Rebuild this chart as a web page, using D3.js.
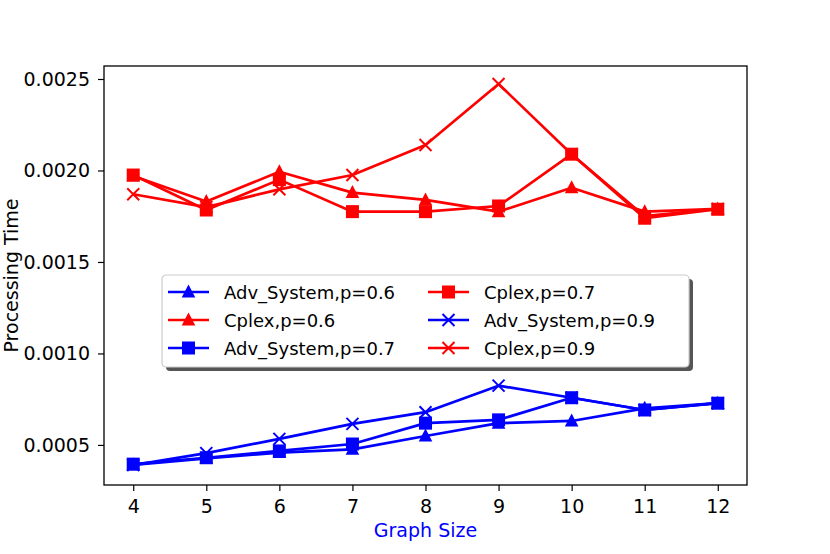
<!DOCTYPE html>
<html>
<head>
<meta charset="utf-8">
<script src="https://cdn.jsdelivr.net/npm/d3@7"></script>
<style>
  body { margin: 0; background: #fff; }
  svg { font-family: "DejaVu Sans", sans-serif; }
</style>
</head>
<body>
<svg width="830" height="554"></svg>
<script>
const sizes = [4, 5, 6, 7, 8, 9, 10, 11, 12];
const yTicks = [0.0005, 0.0010, 0.0015, 0.0020, 0.0025];

const advP06 = [0.000391, 0.000427, 0.000458, 0.000476, 0.000549, 0.000619, 0.000631, 0.000700, 0.000728];
const cplexP06 = [0.001970, 0.001830, 0.001993, 0.001879, 0.001839, 0.001775, 0.001906, 0.001775, 0.001790];
const advP07 = [0.000395, 0.000430, 0.000467, 0.000505, 0.000619, 0.000637, 0.000758, 0.000691, 0.000728];
const cplexP07 = [0.001975, 0.001784, 0.001950, 0.001775, 0.001775, 0.001806, 0.002089, 0.001739, 0.001788];
const advP09 = [0.000390, 0.000455, 0.000533, 0.000615, 0.000679, 0.000824, 0.000758, 0.000691, 0.000728];
const cplexP09 = [0.001870, 0.001800, 0.001897, 0.001975, 0.002139, 0.002473, 0.002089, 0.001750, 0.001790];

const series = [
  { name: "Adv_System,p=0.6", values: advP06, color: "#0000ff", marker: "tri" },
  { name: "Cplex,p=0.6", values: cplexP06, color: "#ff0000", marker: "tri" },
  { name: "Adv_System,p=0.7", values: advP07, color: "#0000ff", marker: "sq" },
  { name: "Cplex,p=0.7", values: cplexP07, color: "#ff0000", marker: "sq" },
  { name: "Adv_System,p=0.9", values: advP09, color: "#0000ff", marker: "x" },
  { name: "Cplex,p=0.9", values: cplexP09, color: "#ff0000", marker: "x" }
];

const svg = d3.select("svg");
const margin = { top: 66, right: 83, bottom: 69, left: 104 };
const width = 830 - margin.left - margin.right;
const height = 554 - margin.top - margin.bottom;

const x = d3.scaleLinear().domain([3.6, 12.4]).range([0, width]);
const y = d3.scaleLinear().domain([0.000281, 0.002571]).range([height, 0]);

const g = svg.append("g").attr("transform", `translate(${margin.left},${margin.top})`);

// axes
const xAxis = g.append("g")
  .attr("transform", `translate(0,${height})`)
  .call(d3.axisBottom(x).tickValues(sizes).tickFormat(d3.format("d")).tickSize(6).tickPadding(9));
const yAxis = g.append("g")
  .call(d3.axisLeft(y).tickValues(yTicks).tickFormat(d3.format(".4f")).tickSize(6).tickPadding(8));
[xAxis, yAxis].forEach(a => {
  a.select(".domain").remove();
  a.selectAll("line").attr("stroke", "#000").attr("stroke-width", 1.2);
  a.selectAll("text").attr("font-size", 19).attr("fill", "#000")
    .attr("font-family", "DejaVu Sans, sans-serif");
});

g.append("rect")
  .attr("width", width).attr("height", height)
  .attr("fill", "none").attr("stroke", "#000").attr("stroke-width", 1.3);

// axis labels
svg.append("text")
  .attr("x", margin.left + width / 2).attr("y", 537)
  .attr("text-anchor", "middle").attr("font-size", 19).attr("fill", "#0000ff")
  .text("Graph Size");
svg.append("text")
  .attr("transform", `translate(18,${margin.top + height / 2}) rotate(-90)`)
  .attr("text-anchor", "middle").attr("font-size", 19).attr("fill", "#000")
  .text("Processing Time");

function drawMarker(sel, type, color) {
  if (type === "sq") {
    sel.append("rect").attr("x", -6.5).attr("y", -6.5).attr("width", 13).attr("height", 13)
      .attr("fill", color);
  } else if (type === "tri") {
    sel.append("path").attr("d", "M0,-7.5L6.8,5.5L-6.8,5.5Z").attr("fill", color);
  } else {
    sel.append("path").attr("d", "M-6,-6L6,6M-6,6L6,-6")
      .attr("stroke", color).attr("stroke-width", 2).attr("fill", "none");
  }
}

const line = d3.line().x((d, i) => x(sizes[i])).y(d => y(d));

series.forEach(s => {
  g.append("path")
    .datum(s.values)
    .attr("d", line)
    .attr("fill", "none")
    .attr("stroke", s.color)
    .attr("stroke-width", 2.7)
    .attr("stroke-linejoin", "round");
  g.selectAll(null)
    .data(s.values)
    .enter()
    .append("g")
    .attr("transform", (d, i) => `translate(${x(sizes[i])},${y(d)})`)
    .each(function () { drawMarker(d3.select(this), s.marker, s.color); });
});

// legend
const lg = svg.append("g").attr("transform", "translate(162,275)");
const lw = 527, lh = 92;
lg.append("rect").attr("x", 4).attr("y", 4).attr("width", lw).attr("height", lh)
  .attr("rx", 4).attr("fill", "#555");
lg.append("rect").attr("x", 0).attr("y", 0).attr("width", lw).attr("height", lh)
  .attr("rx", 4).attr("fill", "#fff").attr("stroke", "#ccc").attr("stroke-width", 1.2);

series.forEach((s, i) => {
  const col = Math.floor(i / 3), row = i % 3;
  const item = lg.append("g")
    .attr("transform", `translate(${6 + col * 260},${17 + row * 28})`);
  item.append("line").attr("x1", 0).attr("x2", 41).attr("y1", 0).attr("y2", 0)
    .attr("stroke", s.color).attr("stroke-width", 2.7);
  const m = item.append("g").attr("transform", "translate(20.5,0)");
  drawMarker(m, s.marker, s.color);
  item.append("text").attr("x", 56).attr("y", 6.5)
    .attr("font-size", 18).attr("fill", "#000").text(s.name);
});
</script>
</body>
</html>
